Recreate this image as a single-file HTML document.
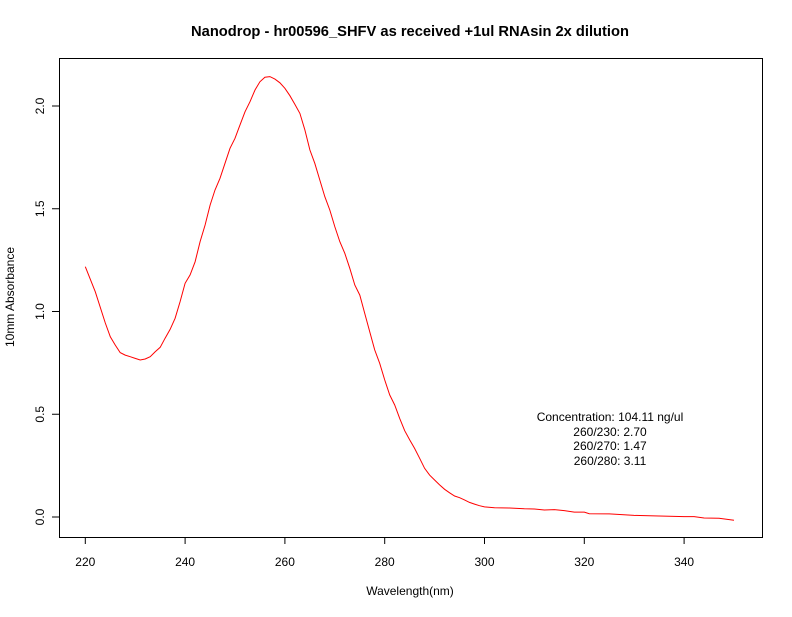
<!DOCTYPE html>
<html><head><meta charset="utf-8"><style>
body{margin:0;background:#fff}
svg text{font-family:"Liberation Sans",sans-serif;fill:#000}
</style></head><body>
<svg id="chart" width="792" height="612" xmlns="http://www.w3.org/2000/svg">
<rect width="792" height="612" fill="#fff"/>
<text x="410" y="36" text-anchor="middle" font-size="14.7" font-weight="bold">Nanodrop - hr00596_SHFV as received +1ul RNAsin 2x dilution</text>
<rect x="59.5" y="58.5" width="703" height="479" fill="none" stroke="#000" stroke-width="1"/>
<g id="xaxis"></g>
<g id="yaxis"></g>
<text x="410" y="595" text-anchor="middle" font-size="12">Wavelength(nm)</text>
<text transform="translate(14,297) rotate(-90)" text-anchor="middle" font-size="12">10mm Absorbance</text>
<path id="curve" fill="none" stroke="#ff0000" stroke-width="1"/>
<g font-size="12" text-anchor="middle">
<text x="610" y="421">Concentration: 104.11 ng/ul</text>
<text x="610" y="436">260/230: 2.70</text>
<text x="610" y="450">260/270: 1.47</text>
<text x="610" y="465">260/280: 3.11</text>
</g>
</svg>
<script>
const wavelengths=[220,222,224,225,226,227,228,229,230,231,232,233,234,235,236,237,238,239,240,241,242,243,244,245,246,247,248,249,250,251,252,253,254,255,256,257,258,259,260,261,262,263,264,265,266,267,268,269,270,271,272,273,274,275,276,277,278,279,280,281,282,283,284,285,286,287,288,289,290,291,292,293,294,295,296,297,298,299,300,302,305,308,310,312,314,316,318,320,321,325,330,335,340,342,344,347,350];
const absorbance=[1.218,1.096,0.944,0.877,0.837,0.80,0.788,0.78,0.772,0.764,0.769,0.78,0.804,0.826,0.87,0.913,0.967,1.048,1.137,1.178,1.242,1.34,1.421,1.518,1.591,1.648,1.721,1.794,1.843,1.908,1.972,2.021,2.078,2.118,2.14,2.143,2.131,2.113,2.086,2.05,2.008,1.964,1.883,1.786,1.721,1.64,1.559,1.494,1.413,1.34,1.283,1.21,1.129,1.08,0.991,0.902,0.813,0.748,0.667,0.594,0.545,0.48,0.42,0.375,0.334,0.286,0.237,0.204,0.18,0.156,0.135,0.118,0.102,0.094,0.083,0.071,0.063,0.055,0.049,0.045,0.044,0.04,0.039,0.034,0.036,0.031,0.024,0.024,0.016,0.015,0.008,0.005,0.002,0.002,-0.005,-0.006,-0.016];
const xTicks=[220,240,260,280,300,320,340];
const yTicks=[0,0.5,1,1.5,2];
const yTickLabels=["0.0","0.5","1.0","1.5","2.0"];
const NS="http://www.w3.org/2000/svg";
function sx(w){return 85.3+(w-220)*4.99;}
function sy(v){return 517-v*205.5;}
let d="";
wavelengths.forEach((w,i)=>{d+=(i?"L":"M")+sx(w).toFixed(1)+","+sy(absorbance[i]).toFixed(1);});
document.getElementById("curve").setAttribute("d",d);
const xa=document.getElementById("xaxis");
xTicks.forEach(t=>{
 const l=document.createElementNS(NS,"line");
 
 
 l.setAttribute("x1",sx(t));l.setAttribute("x2",sx(t));l.setAttribute("y1",537);l.setAttribute("y2",544);l.setAttribute("stroke","#000");
 xa.appendChild(l);
 const tx=document.createElementNS(NS,"text");
 
 
 tx.setAttribute("x",sx(t));tx.setAttribute("y",566);tx.setAttribute("text-anchor","middle");tx.setAttribute("font-size","12");
 tx.textContent=t;xa.appendChild(tx);
});
const ya=document.getElementById("yaxis");
yTicks.forEach((t,i)=>{
 const l=document.createElementNS(NS,"line");
 
 
 l.setAttribute("x1",52);l.setAttribute("x2",59);l.setAttribute("y1",sy(t));l.setAttribute("y2",sy(t));l.setAttribute("stroke","#000");
 ya.appendChild(l);
 const tx=document.createElementNS(NS,"text");
 
 
 tx.setAttribute("transform","translate(44,"+sy(t)+") rotate(-90)");tx.setAttribute("text-anchor","middle");tx.setAttribute("font-size","12");
 tx.textContent=yTickLabels[i];ya.appendChild(tx);
});
</script>
</body></html>
